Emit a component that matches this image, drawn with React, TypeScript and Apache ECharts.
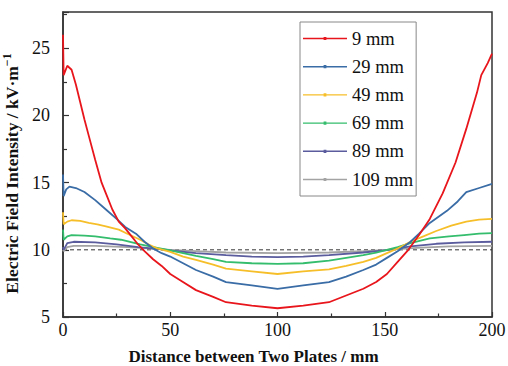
import React, { useEffect, useRef } from "react";
import * as echarts from "echarts";

const seriesNames = ["9 mm", "29 mm", "49 mm", "69 mm", "89 mm", "109 mm"];
const colors = ["#E8161C", "#3A6CA6", "#F6BF2A", "#34BD6C", "#5A5C9E", "#A3A3A3"];

const red: [number, number][] = [
  [0, 26.0], [0.3, 23.0], [2, 23.7], [4, 23.4], [6, 22.3], [8, 21.0], [10, 19.7], [12, 18.5], [15, 16.7],
  [18, 15.0], [20, 14.2], [23, 13.0], [26, 12.1], [29, 11.6], [32, 11.0], [35, 10.4], [38, 9.9], [42, 9.3],
  [46, 8.8], [50, 8.2], [55, 7.7], [62, 7.0], [70, 6.5], [76, 6.1], [88, 5.85], [100, 5.65], [112, 5.85],
  [124, 6.1], [132, 6.6], [140, 7.1], [146, 7.6], [151, 8.2], [156, 9.1], [161, 10.0], [166, 11.1],
  [171, 12.3], [177, 14.2], [183, 16.5], [188, 19.0], [193, 21.7], [195, 23.0], [198, 23.9], [200, 24.6],
];
const blue: [number, number][] = [
  [0, 15.6], [0.3, 14.0], [1.5, 14.5], [3, 14.7], [6, 14.6], [10, 14.3], [15, 13.7], [20, 13.0], [25, 12.3],
  [29, 11.7], [34, 11.2], [38, 10.6], [42, 10.1], [46, 9.75], [50, 9.5], [56, 9.0], [62, 8.5], [70, 8.0],
  [76, 7.6], [88, 7.35], [100, 7.1], [112, 7.35], [124, 7.6], [132, 8.0], [140, 8.5], [146, 8.9], [151, 9.4],
  [156, 9.9], [162, 10.6], [166, 11.2], [171, 12.0], [179, 12.9], [184, 13.6], [188, 14.3], [194, 14.6], [200, 14.9],
];
const yellow: [number, number][] = [
  [0, 12.8], [0.3, 11.9], [2, 12.1], [4, 12.2], [8, 12.15], [12, 12.0], [16, 11.9], [20, 11.75], [26, 11.5],
  [30, 11.2], [36, 10.75], [40, 10.4], [44, 10.1], [50, 9.85], [56, 9.5], [62, 9.25], [70, 8.9], [76, 8.6],
  [88, 8.4], [100, 8.2], [112, 8.4], [124, 8.55], [132, 8.8], [140, 9.1], [146, 9.4], [151, 9.75], [156, 10.1],
  [162, 10.6], [168, 11.0], [174, 11.4], [181, 11.8], [188, 12.1], [194, 12.25], [200, 12.3],
];
const green: [number, number][] = [
  [0, 11.5], [0.3, 10.75], [2, 11.0], [4, 11.1], [10, 11.05], [15, 11.0], [22, 10.85], [27, 10.75], [36, 10.4],
  [44, 10.15], [50, 9.95], [56, 9.75], [62, 9.55], [70, 9.3], [76, 9.1], [88, 9.0], [100, 8.95], [112, 9.0],
  [124, 9.2], [132, 9.4], [140, 9.6], [146, 9.8], [151, 10.0], [156, 10.2], [162, 10.5], [171, 10.85],
  [180, 11.0], [187, 11.1], [194, 11.2], [200, 11.25],
];
const purple: [number, number][] = [
  [0, 10.2], [0.3, 10.0], [2, 10.5], [5, 10.6], [15, 10.55], [25, 10.4], [35, 10.2], [45, 10.05], [50, 9.95],
  [62, 9.75], [76, 9.6], [88, 9.5], [100, 9.45], [112, 9.5], [124, 9.6], [140, 9.8], [151, 9.98], [162, 10.25],
  [174, 10.45], [187, 10.55], [200, 10.6],
];
const gray: [number, number][] = [
  [0, 10.0], [0.3, 9.9], [2, 10.2], [5, 10.3], [15, 10.3], [30, 10.2], [45, 10.05], [50, 10.0], [62, 9.9],
  [76, 9.8], [100, 9.75], [124, 9.8], [140, 9.9], [151, 10.0], [165, 10.15], [180, 10.25], [200, 10.3],
];
const refLine: [number, number][] = [[0, 10], [200, 10]];

const allData = [red, blue, yellow, green, purple, gray];
const FONT = "'Liberation Serif', 'Times New Roman', serif";
const legendIcon = "path://M0,6.3L44,6.3L44,7.7L0,7.7Z M20.6,5.4L23.4,5.4L23.4,8.6L20.6,8.6Z";

export default function App() {
  const ref = useRef<HTMLDivElement>(null);
  useEffect(() => {
    if (!ref.current) return;
    const chart = echarts.init(ref.current, null, { renderer: "svg" });
    const series: any[] = allData.map((d, i) => ({
      name: seriesNames[i],
      type: "line",
      data: d,
      showSymbol: false,
      symbol: "none",
      lineStyle: { color: colors[i], width: 1.8 },
      itemStyle: { color: colors[i] },
      z: 3 + (5 - i),
    }));
    series.push({
      name: "ref",
      type: "line",
      data: refLine,
      showSymbol: false,
      symbol: "none",
      lineStyle: { color: "#333", width: 1, type: [4, 3] },
      z: 2,
    });
    chart.setOption({
      animation: false,
      backgroundColor: "#fff",
      grid: {
        left: 63, right: 16, top: 12, bottom: 49,
        containLabel: false,
        outerBoundsMode: "none",
        show: true, borderColor: "#333", borderWidth: 1.5, backgroundColor: "transparent",
      },
      legend: {
        data: seriesNames.map((n) => ({ name: n, icon: legendIcon })),
        orient: "vertical",
        left: 300,
        top: 22,
        itemWidth: 44,
        itemHeight: 14,
        itemGap: 9.2,
        padding: [7, 3, 7, 3],
        borderColor: "#888",
        borderWidth: 1,
        backgroundColor: "#fff",
        textStyle: { fontFamily: FONT, fontSize: 18.5, color: "#111", padding: [0, 0, 0, 0] },
      },
      xAxis: {
        type: "value",
        min: 0,
        max: 200,
        interval: 50,
        name: "Distance between Two Plates / mm",
        nameLocation: "middle",
        nameGap: 31,
        nameTextStyle: { fontFamily: FONT, fontSize: 17, fontWeight: "bold", color: "#111", padding: [0, 48, 0, 0] },
        axisLine: { show: true, lineStyle: { color: "#333", width: 1.5 } },
        axisTick: { show: true, inside: true, length: 5, lineStyle: { color: "#333", width: 1.2 } },
        minorTick: { show: true, splitNumber: 2, length: 3.5, lineStyle: { color: "#333", width: 1.2 } },
        axisLabel: { fontFamily: FONT, fontSize: 18, color: "#111", margin: 4 },
        splitLine: { show: false },
      },
      yAxis: {
        type: "value",
        min: 5,
        max: 27.7,
        interval: 5,
        name: "Electric Field Intensity / kV·m{sup|−1}",
        nameLocation: "middle",
        nameGap: 31,
        nameRotate: 90,
        nameTextStyle: {
          fontFamily: FONT, fontSize: 17.5, fontWeight: "bold", color: "#111",
          padding: [0, 18, 0, 0],
          rich: { sup: { fontFamily: FONT, fontSize: 12, fontWeight: "bold", color: "#111", padding: [0, 0, 10, 0] } },
        },
        axisLine: { show: true, lineStyle: { color: "#333", width: 1.5 } },
        axisTick: { show: true, inside: true, length: 6, lineStyle: { color: "#333", width: 1.2 } },
        minorTick: { show: true, splitNumber: 2, length: 4, lineStyle: { color: "#333", width: 1.2 } },
        axisLabel: {
          fontFamily: FONT, fontSize: 18, color: "#111", margin: 13,
          formatter: (v: number) => (Math.abs(v % 5) < 1e-6 ? String(v) : ""),
        },
        splitLine: { show: false },
      },
      series,
    });
    return () => chart.dispose();
  }, []);
  return <div ref={ref} style={{ width: 508, height: 366, position: "absolute", left: 0, top: 0 }} />;
}
